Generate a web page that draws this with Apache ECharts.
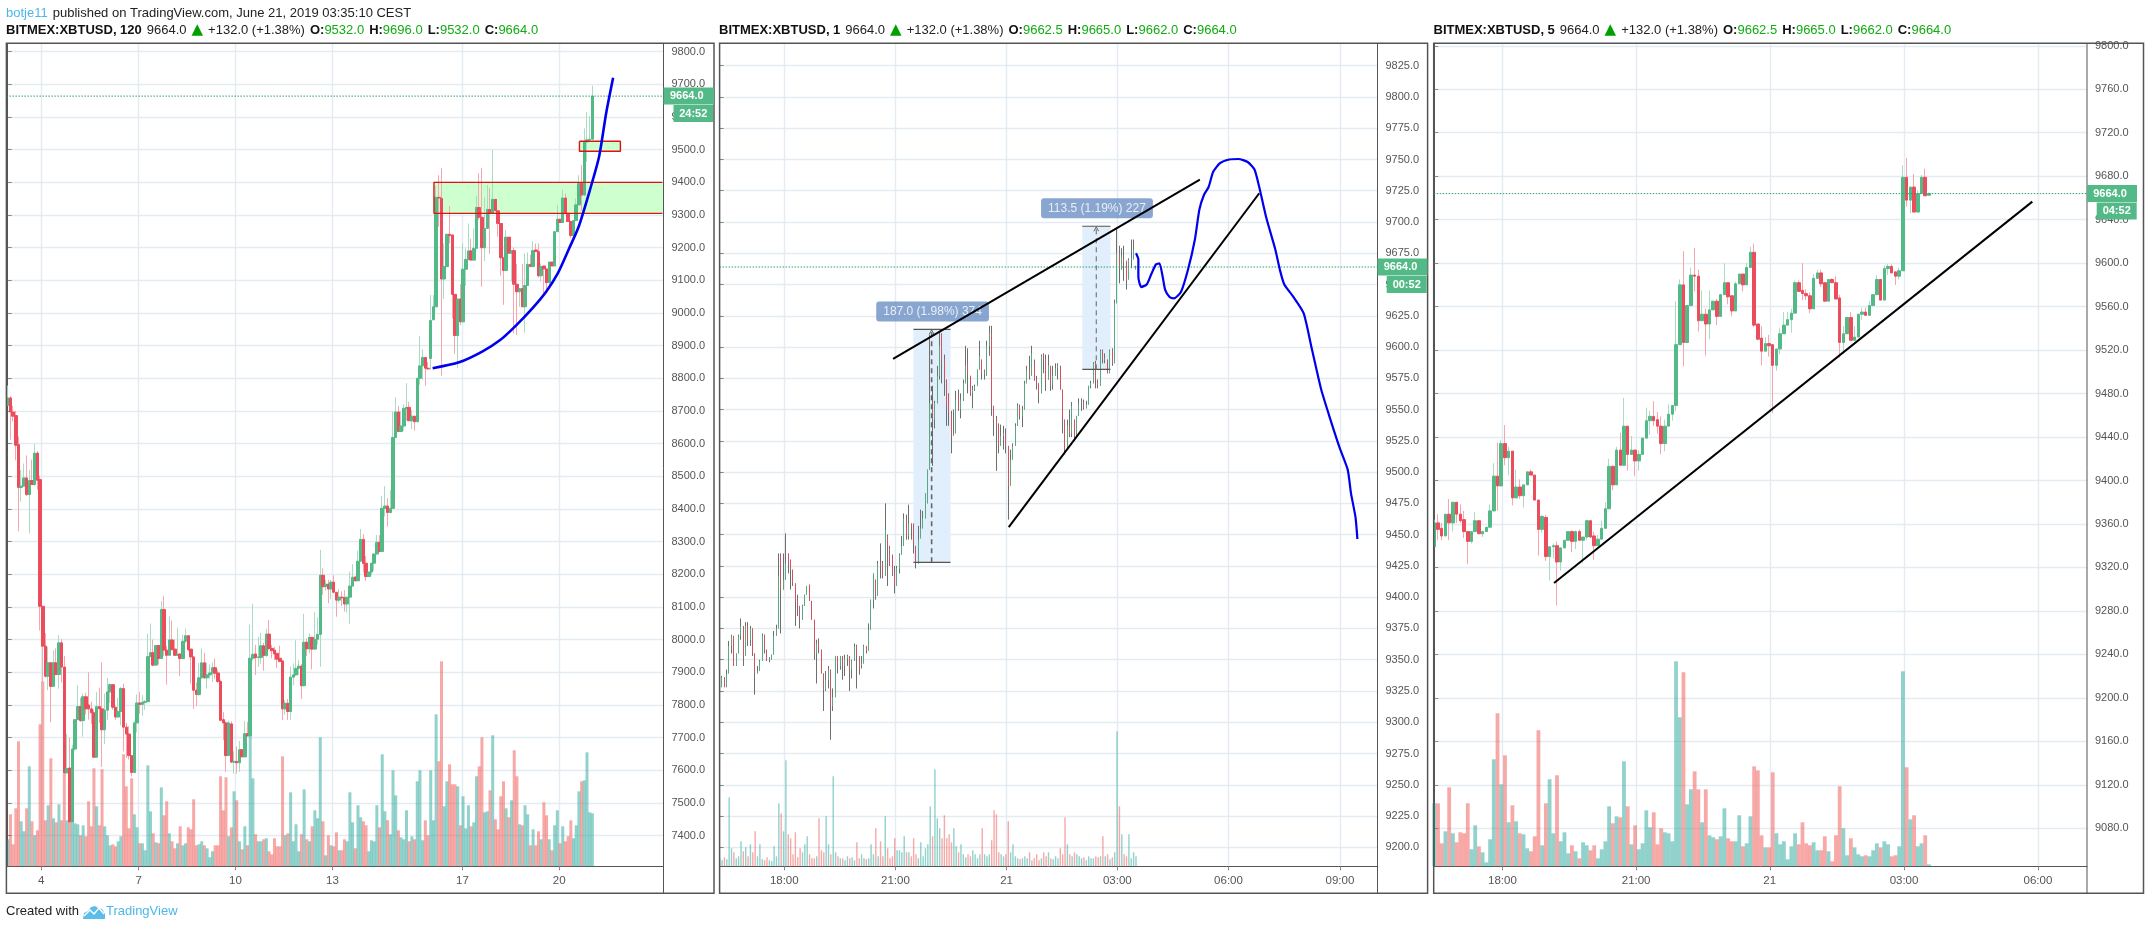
<!DOCTYPE html>
<html><head><meta charset="utf-8">
<style>html,body{margin:0;padding:0;background:#fff}#c{width:2147px;height:930px}</style>
<script src="https://cdn.jsdelivr.net/npm/echarts@6/dist/echarts.min.js"></script>
</head><body><div id="c"></div>
<script>
// rows: open, close, high, low
const p1Bars=[[8717,8740,8778,8717],[8740,8697,8745,8612],[8697,8684,8716,8668],[8686,8595,8700,8549],[8597,8466,8622,8332],[8466,8470,8520,8423],[8470,8495,8539,8470],[8495,8444,8564,8439],[8444,8487,8520,8325],[8487,8475,8551,8475],[8475,8571,8600,8470],[8571,8488,8577,8459],[8490,8102,8502,8028],[8102,7980,8102,7867],[7980,7888,8020,7883],[7888,7929,7978,7845],[7929,7857,7929,7747],[7857,7929,7967,7857],[7929,7893,7973,7893],[7893,7990,8014,7850],[7990,7916,8002,7868],[7916,7592,7950,7576],[7592,7605,7712,7590],[7607,7442,7700,7442],[7442,7665,7678,7440],[7665,7755,7755,7660],[7755,7795,7860,7755],[7795,7752,7822,7748],[7752,7825,7835,7703],[7825,7788,7837,7770],[7800,7788,7900,7755],[7788,7776,7810,7742],[7776,7640,7786,7640],[7640,7795,7840,7640],[7795,7788,7853,7745],[7788,7724,7930,7610],[7724,7784,7835,7680],[7784,7840,7883,7755],[7840,7862,7867,7806],[7862,7793,7862,7785],[7793,7763,7793,7755],[7763,7780,7822,7763],[7780,7850,7855,7737],[7850,7732,7865,7658],[7732,7711,7745,7638],[7711,7645,7735,7633],[7645,7593,7645,7581],[7593,7745,7750,7591],[7745,7806,7832,7716],[7806,7802,7840,7773],[7802,7808,7830,7767],[7808,7810,7815,7785],[7810,7948,8018,7810],[7948,7960,8049,7948],[7960,7922,8000,7918],[7922,7982,7982,7922],[7982,7942,7982,7924],[7942,8092,8118,7942],[8092,7968,8133,7950],[7968,7952,7980,7862],[7952,7999,8072,7952],[7999,7969,8058,7969],[7971,7952,8000,7950],[7952,7955,8036,7950],[7956,7942,7958,7888],[7942,7995,8015,7942],[7995,8012,8034,7990],[8012,7969,8012,7964],[7971,7947,7971,7865],[7947,7845,7949,7788],[7845,7832,7868,7796],[7832,7883,7928,7827],[7883,7929,7973,7879],[7929,7883,7960,7879],[7883,7892,7929,7850],[7892,7898,7924,7880],[7898,7914,7930,7870],[7914,7897,7942,7880],[7898,7872,7908,7867],[7872,7753,7877,7750],[7755,7745,7778,7692],[7745,7645,7750,7595],[7645,7745,7752,7645],[7742,7625,7750,7622],[7625,7627,7658,7590],[7627,7623,7673,7590],[7623,7663,7690,7595],[7663,7641,7663,7641],[7641,7712,7750,7641],[7712,7705,7748,7705],[7705,7943,8046,7705],[7943,7955,8110,7936],[7956,7945,7984,7892],[7945,7947,8009,7917],[7945,7981,8021,7926],[7981,7951,7990,7905],[7951,8017,8033,7948],[8017,7973,8060,7968],[7973,7966,7984,7943],[7968,7956,7978,7937],[7958,7940,7958,7913],[7943,7933,7981,7931],[7935,7788,7935,7754],[7788,7805,7815,7770],[7805,7780,7818,7754],[7780,7885,7917,7754],[7885,7892,7927,7860],[7892,7912,7998,7889],[7912,7919,7938,7892],[7919,7859,7925,7818],[7859,7992,8079,7856],[7992,7972,8004,7950],[7972,8007,8019,7958],[8007,7971,8007,7909],[7971,8001,8084,7971],[8001,8016,8068,7985],[8016,8197,8275,7917],[8197,8162,8218,8137],[8162,8170,8183,8150],[8170,8155,8183,8111],[8155,8176,8183,8124],[8176,8145,8197,8142],[8145,8121,8145,8070],[8121,8130,8155,8113],[8130,8128,8148,8103],[8128,8109,8152,8086],[8109,8130,8130,8083],[8130,8164,8208,8048],[8164,8191,8231,8164],[8192,8180,8192,8180],[8180,8240,8272,8180],[8240,8307,8339,8240],[8307,8233,8323,8205],[8234,8193,8256,8180],[8193,8207,8207,8193],[8207,8234,8234,8197],[8234,8262,8264,8210],[8262,8298,8320,8262],[8298,8270,8320,8267],[8270,8402,8440,8270],[8402,8409,8470,8377],[8409,8389,8433,8346],[8389,8402,8458,8387],[8402,8619,8698,8400],[8619,8697,8742,8619],[8697,8637,8715,8637],[8637,8654,8700,8637],[8654,8708,8721,8640],[8708,8711,8785,8670],[8711,8670,8728,8670],[8670,8684,8703,8644],[8684,8667,8684,8640],[8667,8800,8800,8667],[8800,8838,8930,8780],[8838,8864,8889,8795],[8864,8831,8864,8777],[8831,8829,8850,8826],[8861,8977,9055,8826],[8979,9019,9055,8979],[9019,9354,9389,9019],[9354,9352,9422,9264],[9351,9104,9443,8808],[9104,9142,9213,9043],[9142,9241,9241,9142],[9241,9237,9328,9213],[9239,9057,9239,8984],[9057,8931,9057,8875],[8931,9043,9043,8831],[9043,8973,9089,8963],[8973,9134,9213,8973],[9134,9164,9197,9083],[9164,9190,9274,9162],[9190,9162,9227,9162],[9162,9198,9259,9162],[9198,9323,9359,9198],[9323,9293,9428,9285],[9293,9200,9443,9081],[9200,9259,9354,9159],[9259,9317,9392,9259],[9317,9305,9382,9181],[9305,9348,9499,9305],[9348,9313,9348,9313],[9313,9274,9313,9234],[9274,9169,9274,9114],[9169,9130,9169,9025],[9130,9232,9254,9130],[9232,9183,9232,9183],[9183,9191,9191,9096],[9191,9088,9201,8938],[9088,9065,9150,8933],[9065,9075,9075,9019],[9075,9019,9150,9019],[9019,9084,9183,8940],[9084,9149,9186,9084],[9149,9142,9178,9142],[9142,9191,9220,9142],[9193,9188,9213,9188],[9188,9114,9213,9109],[9114,9142,9152,9096],[9144,9135,9144,9050],[9135,9093,9135,9065],[9093,9156,9156,9081],[9156,9144,9156,9144],[9144,9249,9249,9144],[9249,9287,9331,9249],[9287,9277,9287,9277],[9277,9352,9377,9277],[9352,9305,9366,9305],[9305,9280,9305,9280],[9280,9237,9280,9229],[9237,9283,9283,9237],[9283,9331,9351,9283],[9331,9397,9422,9331],[9397,9361,9453,9313],[9361,9524,9565,9361],[9524,9530,9616,9463],[9530,9532,9603,9524],[9532,9664,9696,9532]];
const p1Vol=[27,52,22,58,125,45,35,58,100,45,31,36,142,185,46,61,108,48,44,62,46,93,46,45,50,43,42,31,41,30,65,40,98,60,41,97,40,31,21,22,20,25,30,112,80,38,88,52,39,23,23,16,101,55,33,24,23,79,51,65,33,25,18,23,40,21,23,39,37,67,21,22,25,21,18,9,15,21,21,90,56,89,30,39,75,66,25,17,40,21,130,88,32,25,25,27,28,15,12,28,20,20,110,31,33,74,25,42,15,32,77,27,25,40,56,48,129,45,11,31,21,20,34,16,16,27,25,74,44,18,61,49,45,41,15,26,25,61,39,112,55,46,32,96,71,36,29,27,56,25,30,27,85,96,26,46,31,96,46,152,105,205,60,85,102,82,82,80,41,70,38,61,40,44,90,100,129,54,55,76,131,47,37,70,85,58,49,66,116,90,42,41,61,52,21,37,21,35,27,64,51,27,16,41,56,23,40,25,30,46,28,41,75,85,86,114,54,53];
const p1PriceTicks=[7400,7500,7600,7700,7800,7900,8000,8100,8200,8300,8400,8500,8600,8700,8800,8900,9000,9100,9200,9300,9400,9500,9600,9700,9800];
const p1TimeTicks=[12.45,48.6,84.5,120.5,168.8,204.7];
const p1TimeLabels=['4','7','10','13','17','20'];
const p1CurveX=[157.7,167.5,176.1,182.9,188.8,194.8,199.9,204.2,208.4,211.9,216.1,219.5,222.1,224.7];
const p1CurveY=[8831,8849,8882,8918,8963,9015,9066,9122,9198,9264,9377,9479,9611,9720];

const p2Bars=[[9318,9328,9328,9318],[9328,9336,9337,9328],[9336,9328,9336,9328],[9328,9339,9342,9328],[9339,9361,9365,9339],[9361,9369,9370,9355],[9369,9345,9369,9345],[9345,9355,9355,9345],[9355,9369,9370,9355],[9369,9377,9383,9366],[9377,9353,9377,9345],[9353,9377,9380,9353],[9377,9366,9380,9361],[9366,9375,9377,9361],[9375,9355,9375,9353],[9355,9339,9355,9322],[9339,9341,9345,9339],[9341,9349,9350,9341],[9349,9370,9371,9349],[9370,9358,9370,9355],[9358,9350,9358,9349],[9350,9351,9352,9348],[9350,9354,9354,9350],[9354,9369,9373,9354],[9369,9375,9378,9369],[9375,9417,9435,9375],[9434,9406,9435,9371],[9406,9414,9435,9406],[9414,9427,9451,9414],[9435,9427,9435,9419],[9430,9422,9430,9406],[9422,9411,9422,9409],[9411,9398,9411,9377],[9398,9393,9402,9385],[9393,9382,9393,9375],[9382,9393,9394,9382],[9393,9402,9402,9393],[9402,9409,9409,9402],[9410,9397,9410,9397],[9397,9382,9397,9382],[9382,9355,9382,9350],[9355,9363,9366,9331],[9363,9358,9367,9355],[9358,9339,9358,9339],[9339,9326,9339,9309],[9326,9334,9341,9325],[9334,9342,9345,9327],[9342,9313,9342,9286],[9313,9320,9327,9309],[9320,9353,9353,9320],[9353,9345,9353,9339],[9345,9353,9353,9342],[9353,9345,9353,9334],[9345,9351,9354,9337],[9351,9353,9354,9345],[9353,9342,9353,9325],[9342,9349,9350,9335],[9349,9361,9363,9349],[9361,9353,9362,9327],[9353,9342,9353,9338],[9345,9347,9353,9343],[9347,9361,9362,9347],[9361,9357,9361,9355],[9357,9374,9379,9357],[9374,9398,9398,9374],[9398,9419,9419,9391],[9414,9401,9414,9398],[9401,9427,9429,9401],[9427,9425,9443,9415],[9427,9417,9429,9415],[9417,9454,9475,9417],[9449,9441,9450,9409],[9441,9426,9441,9425],[9433,9419,9434,9417],[9419,9409,9425,9403],[9409,9423,9425,9409],[9423,9434,9435,9419],[9434,9441,9449,9434],[9441,9463,9467,9441],[9462,9449,9466,9446],[9449,9459,9474,9446],[9459,9457,9459,9446],[9458,9443,9459,9435],[9441,9427,9441,9423],[9427,9446,9457,9427],[9447,9455,9470,9447],[9455,9463,9469,9455],[9463,9483,9483,9463],[9475,9502,9502,9475],[9502,9555,9610,9502],[9555,9542,9569,9505],[9542,9555,9557,9535],[9555,9577,9585,9555],[9577,9601,9613,9574],[9611,9590,9611,9571],[9590,9574,9594,9561],[9574,9553,9574,9537],[9561,9547,9563,9537],[9547,9529,9549,9515],[9529,9531,9550,9529],[9531,9558,9565,9531],[9561,9550,9566,9549],[9550,9558,9563,9543],[9558,9571,9574,9557],[9571,9585,9601,9571],[9587,9579,9599,9563],[9577,9563,9577,9561],[9563,9566,9569,9551],[9566,9569,9570,9565],[9569,9582,9582,9569],[9582,9593,9605,9582],[9590,9579,9590,9574],[9579,9580,9582,9574],[9577,9601,9605,9577],[9601,9611,9617,9593],[9611,9553,9617,9545],[9553,9542,9553,9529],[9542,9537,9545,9501],[9537,9521,9539,9515],[9521,9529,9538,9521],[9529,9531,9537,9518],[9531,9521,9535,9515],[9521,9489,9521,9462],[9489,9510,9518,9489],[9510,9521,9523,9510],[9521,9537,9539,9521],[9537,9553,9555,9537],[9553,9545,9554,9542],[9545,9550,9553,9536],[9550,9571,9573,9550],[9571,9582,9585,9571],[9582,9577,9593,9574],[9577,9595,9601,9577],[9587,9574,9590,9573],[9574,9571,9577,9566],[9571,9563,9571,9555],[9563,9593,9594,9563],[9594,9590,9595,9579],[9590,9574,9594,9565],[9574,9585,9594,9574],[9585,9570,9585,9565],[9570,9577,9585,9566],[9577,9583,9587,9577],[9583,9585,9587,9574],[9585,9566,9585,9566],[9566,9542,9566,9531],[9542,9518,9542,9514],[9518,9537,9542,9518],[9537,9531,9550,9528],[9531,9553,9556,9528],[9542,9529,9542,9525],[9529,9545,9545,9529],[9545,9555,9559,9545],[9555,9556,9559,9549],[9555,9551,9558,9550],[9551,9554,9557,9551],[9554,9569,9569,9554],[9569,9571,9573,9567],[9571,9587,9588,9571],[9587,9574,9589,9567],[9574,9569,9574,9567],[9569,9597,9598,9569],[9597,9590,9598,9587],[9590,9591,9595,9587],[9590,9579,9590,9579],[9579,9597,9598,9579],[9597,9587,9599,9585],[9587,9635,9638,9587],[9635,9675,9695,9635],[9675,9663,9681,9651],[9662,9673,9679,9662],[9671,9667,9681,9653],[9669,9654,9669,9646],[9654,9670,9671,9654],[9670,9671,9686,9663],[9670,9678,9686,9670],[9662.5,9664,9665,9662]];
const p2Vol=[8,6,9,7,69,18,14,8,10,25,15,19,10,22,14,35,10,22,7,6,9,6,5,20,10,63,53,35,106,32,28,12,34,9,18,14,22,30,12,8,8,10,48,16,14,50,22,12,90,14,10,8,8,6,10,8,9,6,24,8,12,8,7,8,22,12,38,10,25,10,50,18,8,10,28,16,16,14,30,14,14,10,28,12,8,24,10,18,22,60,30,97,48,38,28,51,28,32,24,38,20,14,22,12,9,12,10,16,12,8,12,38,12,10,12,26,56,52,14,12,10,12,45,14,22,10,8,7,8,10,8,14,6,8,12,6,8,14,10,14,8,7,10,8,18,12,49,22,12,10,14,12,10,8,9,6,10,8,8,10,9,10,30,10,12,7,9,14,135,60,32,12,10,32,8,14,10];
const p2PriceTicks=[9200,9225,9250,9275,9300,9325,9350,9375,9400,9425,9450,9475,9500,9525,9550,9575,9600,9625,9650,9675,9700,9725,9750,9775,9800,9825];
const p2TimeTicks=[27.3,74.3,121.3,168.1,215.1,262.2];
const p2TimeLabels=['18:00','21:00','21','03:00','06:00','09:00'];
const p2CurveX=[176,177,177,178.2,180.5,182.4,184.4,185.9,187.3,188.3,190.2,192.1,195,198,200.9,202.8,204.8,206.7,208.6,211.5,215.4,219.3,223.2,226.1,228.1,231,234.9,236.8,238.7,242.6,246.9,250.4,254.3,258.2,262,265.5,266.9,268.8,269.6];
const p2CurveY=[9675,9670,9656,9648,9650,9658,9666,9667,9656,9646,9640,9639,9644,9662,9686,9710,9722,9728,9740,9747,9750,9750.4,9748,9742,9728,9704,9678,9662,9650,9640,9627,9598,9566,9542,9520,9502,9483,9464,9446.5];

const p3Bars=[[9339,9361,9364,9339],[9361,9355,9369,9345],[9356,9349,9361,9345],[9349,9369,9369,9349],[9369,9361,9383,9345],[9361,9380,9380,9353],[9380,9369,9380,9361],[9369,9363,9378,9361],[9364,9353,9372,9347],[9353,9344,9353,9323],[9344,9353,9353,9342],[9353,9363,9371,9353],[9363,9351,9363,9351],[9351,9353,9353,9348],[9353,9357,9357,9353],[9357,9372,9378,9357],[9372,9404,9416,9372],[9404,9395,9435,9372],[9395,9434,9437,9395],[9434,9421,9451,9414],[9421,9427,9431,9405],[9427,9384,9427,9377],[9384,9394,9410,9384],[9394,9386,9401,9383],[9386,9396,9396,9375],[9396,9408,9408,9396],[9408,9405,9410,9405],[9405,9382,9405,9382],[9382,9355,9382,9331],[9355,9367,9368,9352],[9366,9330,9368,9326],[9330,9339,9339,9308],[9339,9340,9342,9328],[9340,9325,9344,9285],[9325,9338,9338,9317],[9338,9345,9345,9338],[9345,9353,9353,9345],[9353,9344,9354,9334],[9344,9353,9354,9337],[9353,9345,9355,9345],[9345,9348,9348,9324],[9348,9363,9364,9345],[9363,9348,9363,9347],[9349,9340,9353,9327],[9340,9346,9350,9340],[9346,9356,9363,9346],[9356,9374,9380,9356],[9374,9413,9420,9374],[9413,9396,9414,9391],[9396,9428,9431,9396],[9428,9414,9444,9414],[9414,9450,9476,9414],[9450,9424,9450,9409],[9424,9428,9441,9424],[9428,9418,9428,9404],[9418,9424,9428,9409],[9424,9439,9439,9424],[9439,9455,9467,9439],[9455,9459,9464,9442],[9459,9455,9473,9450],[9456,9450,9463,9443],[9450,9434,9459,9424],[9434,9450,9456,9427],[9450,9461,9470,9450],[9461,9469,9469,9455],[9469,9525,9565,9464],[9525,9580,9585,9525],[9580,9527,9611,9505],[9527,9561,9561,9527],[9561,9589,9596,9561],[9589,9588,9614,9574],[9588,9547,9594,9537],[9547,9553,9575,9547],[9553,9544,9558,9515],[9544,9557,9575,9530],[9557,9565,9565,9557],[9565,9551,9567,9543],[9551,9571,9571,9551],[9571,9582,9600,9571],[9582,9569,9582,9562],[9570,9556,9570,9551],[9556,9581,9583,9556],[9581,9590,9590,9581],[9590,9580,9590,9574],[9580,9596,9600,9580],[9596,9610,9615,9596],[9610,9543,9618,9541],[9544,9530,9544,9529],[9531,9519,9542,9506],[9519,9526,9532,9519],[9526,9524,9534,9514],[9525,9506,9525,9462],[9506,9521,9521,9501],[9521,9535,9540,9516],[9535,9543,9555,9535],[9543,9548,9555,9543],[9548,9554,9558,9536],[9554,9582,9584,9554],[9582,9574,9584,9574],[9575,9572,9600,9566],[9572,9570,9576,9566],[9570,9558,9573,9554],[9558,9586,9590,9558],[9586,9591,9594,9586],[9591,9581,9594,9578],[9582,9565,9582,9565],[9565,9585,9585,9565],[9585,9582,9586,9582],[9582,9567,9588,9567],[9568,9527,9571,9513],[9527,9535,9542,9517],[9535,9550,9550,9535],[9550,9529,9555,9529],[9529,9532,9542,9529],[9532,9553,9553,9532],[9553,9555,9559,9548],[9555,9552,9559,9552],[9552,9561,9565,9552],[9561,9571,9571,9561],[9571,9585,9589,9571],[9585,9566,9585,9566],[9566,9595,9598,9566],[9595,9597,9599,9589],[9597,9591,9599,9591],[9592,9588,9592,9580],[9588,9593,9596,9585],[9593,9679,9690,9593],[9679,9658,9697,9652],[9658,9670,9670,9646],[9670,9647,9682,9647],[9647,9664,9667,9647],[9664,9679,9681,9664],[9679,9662,9687,9662],[9662.5,9664,9665,9662]];
const p3Vol=[63,63,23,35,79,33,24,34,33,63,17,41,20,14,4,27,107,153,82,111,44,61,45,33,32,18,15,30,136,21,63,87,33,91,25,34,13,21,15,8,24,21,16,21,8,17,25,60,43,50,49,105,60,22,41,17,23,56,39,54,22,38,34,33,25,205,149,194,62,77,95,77,44,77,31,29,27,30,58,28,25,25,51,20,23,50,100,96,31,19,19,94,33,22,25,7,20,33,22,44,23,21,24,16,16,30,15,5,31,80,38,11,28,19,12,10,11,10,16,23,19,25,22,10,11,20,195,99,47,51,20,23,31,2];
const p3PriceTicks=[9080,9120,9160,9200,9240,9280,9320,9360,9400,9440,9480,9520,9560,9600,9640,9680,9720,9760,9800];
const p3TimeTicks=[18.33,54.27,90.2,126.3,162.3];
const p3TimeLabels=['18:00','21:00','21','03:00','06:00'];

const lastPrice=9664;
const UP='#53b987',DOWN='#eb4d5c',UPW='#a9dcc3',DOWNW='#f7a6ae',VUP='rgba(38,166,154,0.5)',VDOWN='rgba(239,83,80,0.5)';
const GRID='#e3ecf3',FRAME='#555',TXT='#555';
const gridTop=43.3,gridH=823;
const panels=[
 {left:6.4,right:663.5,outer:714,xMin:-0.5,xMax:243.4,yMin:7306,yMax:9825.7,bars:p1Bars,vol:p1Vol,pt:p1PriceTicks,tt:p1TimeTicks,tl:p1TimeLabels,body:3,bw:1,wick:[UPW,DOWNW],vw:3,timer:'24:52',tag:[663.5,50.5],tag2:[673.5,39.5]},
 {left:719.6,right:1377.5,outer:1427.6,xMin:-0.04,xMax:278.1,yMin:9184.8,yMax:9842.9,bars:p2Bars,vol:p2Vol,pt:p2PriceTicks,tt:p2TimeTicks,tl:p2TimeLabels,body:1,bw:0.8,wick:['#6e6e6e','#6e6e6e'],vw:1.4,timer:'00:52',tag:[1377.5,50],tag2:[1386.7,40]},
 {left:1433.7,right:2087,outer:2143.5,xMin:-0.16,xMax:175.5,yMin:9045,yMax:9802.3,bars:p3Bars,vol:p3Vol,pt:p3PriceTicks,tt:p3TimeTicks,tl:p3TimeLabels,body:3,bw:1,wick:[UPW,DOWNW],vw:3.8,timer:'04:52',tag:[2087,50],tag2:[2096.7,40]}
];
const grids=[],xAxes=[],yAxes=[],series=[];
function line(p,pts,color,width,z,extra){return Object.assign({type:'line',xAxisIndex:p,yAxisIndex:p*2,data:pts,showSymbol:false,symbol:'none',silent:true,animation:false,clip:true,lineStyle:{color:color,width:width},z:z},extra||{});}
function zone(p,x1,x2,y1,y2,color){return {type:'line',xAxisIndex:p,yAxisIndex:p*2,data:[],silent:true,z:1,markArea:{silent:true,animation:false,itemStyle:{color:color},data:[[{coord:[x1,y1]},{coord:[x2,y2]}]]}};}
panels.forEach((P,p)=>{
 grids.push({left:P.left,top:gridTop,width:P.right-P.left,height:gridH,show:false,containLabel:false});
 xAxes.push({type:'value',gridIndex:p,min:P.xMin,max:P.xMax,
  axisLine:{show:true,onZero:false,lineStyle:{color:FRAME,width:1}},
  axisTick:{show:true,length:4,lineStyle:{color:'#888'},customValues:P.tt},
  splitLine:{show:true,lineStyle:{color:GRID,width:1.4}},
  axisLabel:{color:TXT,fontSize:11.5,fontFamily:'Liberation Sans',margin:9,customValues:P.tt,
   formatter:v=>{let b=0;P.tt.forEach((t,i)=>{if(Math.abs(t-v)<Math.abs(P.tt[b]-v))b=i;});return P.tl[b];}}});
 yAxes.push({type:'value',gridIndex:p,position:'right',min:P.yMin,max:P.yMax,
  axisLine:{show:true,lineStyle:{color:FRAME,width:1}},
  axisTick:{show:true,length:4,lineStyle:{color:'#888'},customValues:P.pt},
  splitLine:{show:true,lineStyle:{color:GRID,width:1.4}},
  axisLabel:{color:TXT,fontSize:11,fontFamily:'Liberation Sans',margin:8,customValues:P.pt,formatter:v=>v.toFixed(1)}});
 yAxes.push({type:'value',gridIndex:p,min:0,max:gridH,show:false,splitLine:{show:false}});
 series.push({type:'bar',xAxisIndex:p,yAxisIndex:p*2+1,barWidth:P.vw,silent:true,z:2,
  data:P.vol.map((v,i)=>({value:[i,v],itemStyle:{color:P.bars[i][1]>=P.bars[i][0]?VUP:VDOWN}}))});
 series.push({type:'candlestick',xAxisIndex:p,yAxisIndex:p*2,barWidth:1,silent:true,z:3,
  itemStyle:{color:P.wick[0],color0:P.wick[1],borderColor:P.wick[0],borderColor0:P.wick[1],borderWidth:1},
  data:P.bars.map((b,i)=>[i,b[0],b[1],b[3],b[2]])});
 series.push({type:'candlestick',xAxisIndex:p,yAxisIndex:p*2,barWidth:P.body,silent:true,z:4,
  itemStyle:{color:UP,color0:DOWN,borderColor:UP,borderColor0:DOWN,borderWidth:P.bw},
  data:P.bars.map((b,i)=>[i,b[0],b[1],Math.min(b[0],b[1]),Math.max(b[0],b[1])])});
 series.push(line(p,[[P.xMin,lastPrice],[P.xMax,lastPrice]],'#2f9e6e',1,5,{lineStyle:{color:'#2f9e6e',width:1,type:[1.5,1.5]}}));
});
// panel 1 drawings
series.push(zone(0,158.2,243.4,9305,9400,'#ceffce'));
series.push(line(0,[[243,9400],[158.2,9400],[158.2,9305],[243,9305]],'#e0120f',1.4,6));
series.push(zone(0,212.2,227.4,9495,9526,'#ceffce'));
series.push(line(0,[[212.2,9526],[227.4,9526],[227.4,9495],[212.2,9495],[212.2,9526]],'#e0120f',1.4,6));
series.push(line(0,p1CurveX.map((x,i)=>[x,p1CurveY[i]]),'#0000ee',2.6,7,{smooth:0.25}));
// panel 2 drawings
const mA={x1:81.9,x2:97.6,xc:89.6,top:9614.2,bot:9427.9},mB={x1:153.3,x2:165.2,xc:159.2,top:9696.6,bot:9582.2};
[mA,mB].forEach(m=>{
 series.push(zone(1,m.x1,m.x2,m.bot,m.top,'#e1eefc'));
 series.push(line(1,[[m.x1,m.top],[m.x2,m.top]],'#555',1.2,6));
 series.push(line(1,[[m.x1,m.bot],[m.x2,m.bot]],'#555',1.2,6));
 series.push(line(1,[[m.xc,m.bot],[m.xc,m.top]],'#666',1,6,{lineStyle:{color:'#666',width:m===mA?1.6:1,type:[5,4]}}));
 series.push(line(1,[[m.xc-1,m.top-4],[m.xc,m.top-0.5],[m.xc+1,m.top-4]],'#666',1,6));
});
function tagLabel(x,y,text){return {type:'scatter',xAxisIndex:1,yAxisIndex:2,symbolSize:0,silent:true,z:6,data:[[x,y]],
 label:{show:true,position:'inside',formatter:text,color:'#fff',fontSize:12,fontFamily:'Liberation Sans',backgroundColor:'#6c90c4',padding:[4,7,4,7],borderRadius:3}};}
series.push(tagLabel(90,9628.5,'187.0 (1.98%) 374'));
series.push(tagLabel(159.5,9711,'113.5 (1.19%) 227'));
series.push(line(1,[[73.3,9590.5],[203,9733.8]],'#000',2,8));
series.push(line(1,[[122.2,9456],[228.1,9723]],'#000',2,8));
series.push(line(1,p2CurveX.map((x,i)=>[x,p2CurveY[i]]),'#0000ee',2.2,9,{smooth:0.2}));
// panel 3 drawing
series.push(line(2,[[32.2,9305.7],[160.8,9656.6]],'#000',2,8));

const HFONT='Liberation Sans';
const rn={fontWeight:'normal',fontSize:13,fontFamily:HFONT};
function header(left,name,o,h,l,c){
 return {left:left,top:21,text:`{b|BITMEX:XBTUSD, ${name}} {n|9664.0} {t|▲} {n|+132.0 (+1.38%)} {b|O:}{g|${o}} {b|H:}{g|${h}} {b|L:}{g|${l}} {b|C:}{g|${c}}`,
  padding:0,textStyle:{fontFamily:HFONT,fontWeight:'normal',rich:{b:{fontWeight:'bold',color:'#111',fontSize:13,fontFamily:HFONT},n:Object.assign({color:'#222'},rn),t:{color:'#00a000',fontSize:15,fontWeight:'normal',fontFamily:'DejaVu Sans'},g:Object.assign({color:'#10ac10'},rn)}}};
}
const titles=[
 {left:6,top:4,padding:0,text:'{a|botje11} {n|published on TradingView.com, June 21, 2019 03:35:10 CEST}',textStyle:{fontFamily:HFONT,fontWeight:'normal',rich:{a:Object.assign({color:'#4cb8e8'},rn),n:Object.assign({color:'#222'},rn)}}},
 header(6,'120','9532.0','9696.0','9532.0','9664.0'),
 header(719,'1','9662.5','9665.0','9662.0','9664.0'),
 header(1433.5,'5','9662.5','9665.0','9662.0','9664.0'),
 {left:6,top:905,padding:0,text:'Created with',textStyle:{fontFamily:HFONT,fontSize:13,fontWeight:'normal',color:'#222'}},
 {left:106,top:905,padding:0,text:'TradingView',textStyle:{fontFamily:HFONT,fontSize:13,fontWeight:'normal',color:'#4cb8e8'}}
];
const chart=echarts.init(document.getElementById('c'),null,{renderer:'canvas',width:2147,height:930});
chart.setOption({animation:false,backgroundColor:'#fff',title:titles,grid:grids,xAxis:xAxes,yAxis:yAxes,series:series,tooltip:{show:false}});
const gfx=[];
panels.forEach((P,p)=>{
 gfx.push({type:'rect',shape:{x:P.left,y:gridTop,width:P.outer-P.left,height:850},style:{fill:'none',stroke:FRAME,lineWidth:1.5},silent:true,z:20});
 gfx.push({type:'line',shape:{x1:P.right,y1:gridTop,x2:P.right,y2:893.3},style:{stroke:FRAME,lineWidth:1},silent:true,z:20});
 const y=chart.convertToPixel({yAxisIndex:p*2},lastPrice);
 gfx.push({type:'rect',shape:{x:P.tag[0],y:y-8.5,width:P.tag[1],height:17},style:{fill:UP},silent:true,z:21});
 gfx.push({type:'text',x:P.tag[0]+P.tag[1]/2-2,y:y,style:{text:'9664.0',fill:'#fff',font:'bold 11px Liberation Sans',align:'center',verticalAlign:'middle'},silent:true,z:22});
 gfx.push({type:'rect',shape:{x:P.tag2[0],y:y+9,width:P.tag2[1],height:17},style:{fill:UP},silent:true,z:21});
 gfx.push({type:'text',x:P.tag2[0]+P.tag2[1]/2,y:y+17.5,style:{text:P.timer,fill:'#fff',font:'bold 11px Liberation Sans',align:'center',verticalAlign:'middle'},silent:true,z:22});
});
gfx.push({type:'polygon',shape:{points:[[83,919],[84,913],[88,911],[91,907],[95,906],[98,908],[102,909],[105,914],[105,919]]},style:{fill:'#5cbde9'},silent:true,z:21});
gfx.push({type:'polyline',shape:{points:[[84,916],[90,910],[94,914],[99,908],[104,914]]},style:{stroke:'#fff',fill:'none',lineWidth:1.4},silent:true,z:22});
chart.setOption({graphic:gfx});
</script></body></html>
